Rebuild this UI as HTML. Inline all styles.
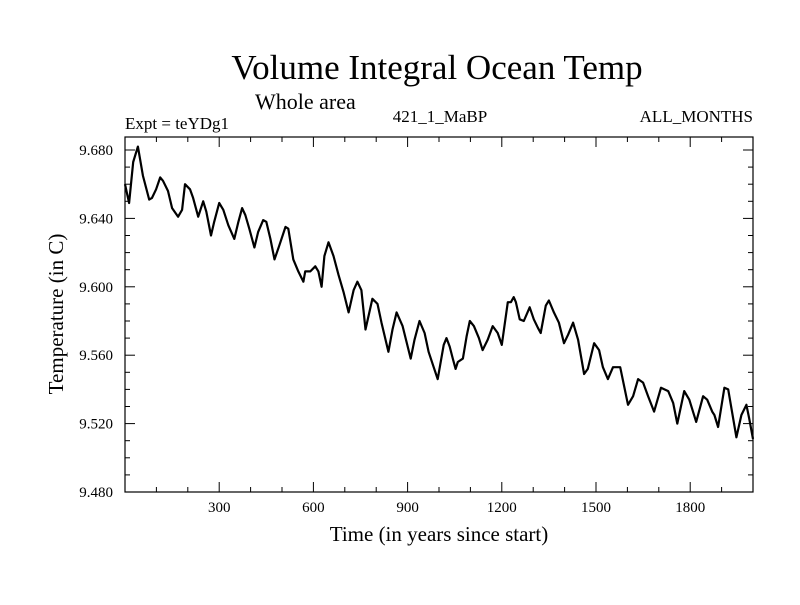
<!DOCTYPE html>
<html><head><meta charset="utf-8"><style>
body{margin:0;background:#fff}
svg text{font-family:"Liberation Serif",serif;fill:#000}
</style></head><body>
<svg id="chart" width="800" height="600" xmlns="http://www.w3.org/2000/svg">
<text x="437" y="79" font-size="35" text-anchor="middle">Volume Integral Ocean Temp</text>
<text x="255" y="109" font-size="22">Whole area</text>
<text x="125" y="129" font-size="17">Expt = teYDg1</text>
<text x="440" y="122" font-size="17" text-anchor="middle">421_1_MaBP</text>
<text x="753" y="122" font-size="17" text-anchor="end">ALL_MONTHS</text>
<text x="439" y="541" font-size="21" text-anchor="middle">Time (in years since start)</text>
<text transform="translate(63,314) rotate(-90)" font-size="21" text-anchor="middle">Temperature (in C)</text>
<g id="axes"></g>
<path id="series" fill="none" stroke="#000" stroke-width="2.2" stroke-linejoin="round"/>
<rect x="125" y="137" width="628" height="355" fill="none" stroke="#000" stroke-width="1.2"/>
</svg>
<script>
const years=[0,13,26,41,57,77,86,99,112,121,137,150,169,182,191,207,217,233,249,259,274,284,300,313,329,348,361,373,383,396,412,424,440,450,463,476,491,511,520,536,552,568,574,590,606,616,626,635,648,664,680,696,712,728,740,753,766,788,804,817,839,852,865,884,910,922,938,954,967,983,996,1015,1024,1034,1044,1053,1060,1076,1088,1098,1111,1127,1139,1155,1171,1187,1200,1219,1229,1238,1245,1257,1270,1289,1302,1315,1324,1340,1350,1366,1382,1398,1411,1427,1443,1462,1474,1494,1510,1522,1538,1554,1567,1577,1602,1618,1634,1650,1666,1685,1707,1730,1746,1759,1781,1797,1819,1841,1854,1870,1877,1889,1909,1921,1947,1963,1979,1988,2000];
const temps=[9.660,9.649,9.673,9.682,9.665,9.651,9.652,9.657,9.664,9.662,9.656,9.646,9.641,9.645,9.660,9.657,9.652,9.641,9.650,9.644,9.630,9.638,9.649,9.645,9.636,9.628,9.638,9.646,9.642,9.634,9.623,9.632,9.639,9.638,9.628,9.616,9.624,9.635,9.634,9.616,9.609,9.603,9.609,9.609,9.612,9.609,9.600,9.618,9.626,9.618,9.607,9.597,9.585,9.598,9.603,9.598,9.575,9.593,9.590,9.579,9.562,9.575,9.585,9.577,9.558,9.569,9.580,9.573,9.562,9.553,9.546,9.566,9.570,9.565,9.558,9.552,9.556,9.558,9.571,9.580,9.577,9.570,9.563,9.569,9.577,9.573,9.566,9.591,9.591,9.594,9.591,9.581,9.580,9.588,9.581,9.576,9.573,9.589,9.592,9.585,9.579,9.567,9.572,9.579,9.569,9.549,9.552,9.567,9.563,9.553,9.546,9.553,9.553,9.553,9.531,9.536,9.546,9.544,9.536,9.527,9.541,9.539,9.532,9.520,9.539,9.534,9.521,9.536,9.534,9.527,9.525,9.518,9.541,9.540,9.512,9.525,9.531,9.523,9.511];
const xTicks=[300,600,900,1200,1500,1800];
const yTicks=[9.480,9.520,9.560,9.600,9.640,9.680];
const yTickLabels=["9.480","9.520","9.560","9.600","9.640","9.680"];
const L=125,R=753,T=137,B=492;
const X0=0,X1=2000,Y0=9.480,Y1=9.6876;
const sx=v=>L+(v-X0)/(X1-X0)*(R-L);
const sy=v=>B-(v-Y0)/(Y1-Y0)*(B-T);
const NS="http://www.w3.org/2000/svg";
const g=document.getElementById('axes');
function line(x1,y1,x2,y2,name){const l=document.createElementNS(NS,'line');
l.setAttribute('x1',x1);l.setAttribute('y1',y1);l.setAttribute('x2',x2);l.setAttribute('y2',y2);
l.setAttribute('stroke','#000');l.setAttribute('stroke-width','1');


g.appendChild(l);}
function text(x,y,s,anchor,name){const t=document.createElementNS(NS,'text');
t.setAttribute('x',x);t.setAttribute('y',y);t.setAttribute('font-size','15');t.setAttribute('text-anchor',anchor);t.textContent=s;


g.appendChild(t);}
for(let v=100;v<2000;v+=100){const x=sx(v);const len=(v%300===0)?10:5;
line(x,B,x,B-len,'x-tick');line(x,T,x,T+len,'x-tick-top');}
xTicks.forEach(v=>text(sx(v),512,String(v),'middle','x-tick-label'));
for(let i=0;i<=20;i++){const v=9.48+i*0.01;const y=sy(v);if(y<T)continue;const len=(i%4===0)?10:5;
line(L,y,L+len,y,'y-tick');line(R,y,R-len,y,'y-tick-right');}
yTicks.forEach((v,i)=>text(113,sy(v)+5,yTickLabels[i],'end','y-tick-label'));
let d='';years.forEach((yr,i)=>{d+=(i?'L':'M')+sx(yr).toFixed(1)+','+sy(temps[i]).toFixed(1);});
document.getElementById('series').setAttribute('d',d);
</script>
</body></html>
